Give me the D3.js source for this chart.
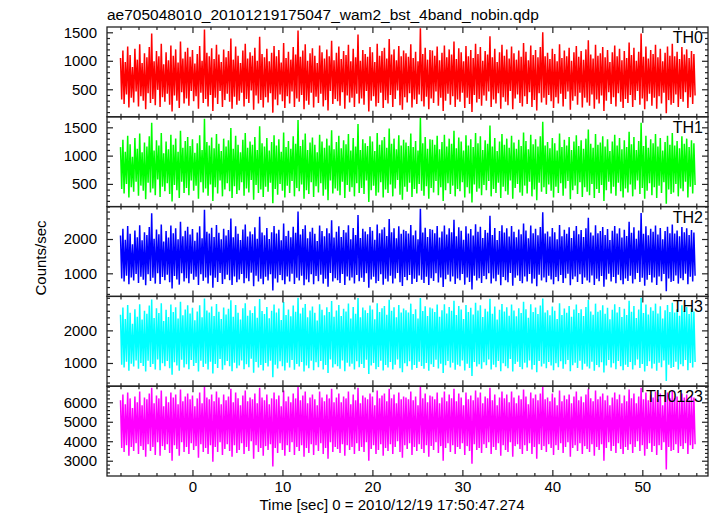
<!DOCTYPE html>
<html><head><meta charset="utf-8">
<script src="https://cdn.jsdelivr.net/npm/d3@7"></script>
<style>body{margin:0;background:#fff} text{font-family:"Liberation Sans",Arial,Helvetica,sans-serif;fill:#000}</style>
</head><body><svg id="c" width="717" height="516"></svg>
<script>
const titleText = "ae705048010_20101219175047_wam2_bst_4band_nobin.qdp";
const xLabel = "Time [sec] 0 = 2010/12/19 17:50:47.274";
const yLabel = "Counts/sec";
const tStart = -8, tStep = 0.13333;

const th0 = [
1050,320,1180,240,980,410,1250,180,1100,350,890,270,1210,460,1020,200,1290,380,960,300,
1130,150,1060,430,1240,260,1480,330,990,220,1170,490,1080,190,1300,360,940,280,1150,420,
1010,230,1270,110,1090,390,1200,300,970,170,1340,450,1040,250,1160,340,1230,210,1070,470,
1190,290,950,380,1120,160,1260,440,1000,260,1550,330,1140,200,1080,400,1220,120,1030,350,
1280,240,1110,470,980,190,1200,310,1060,420,1170,280,1390,160,1020,370,1250,230,1090,300,
960,440,1180,200,1300,330,1040,260,1150,480,1090,140,1230,390,1000,250,1420,310,1120,180,
1060,360,1210,270,990,430,1140,90,1260,320,1080,220,1190,410,970,290,1310,170,1050,380,
1160,250,1020,460,1240,190,1110,340,1530,280,1070,400,1180,150,1290,300,1000,230,1130,440,
1220,180,1090,370,960,260,1270,420,1150,200,1040,310,1200,130,1080,470,1350,240,1010,330,
1140,290,1250,210,1030,450,1170,160,1100,390,1280,270,990,350,1210,190,1060,420,1460,250,
1000,340,1190,230,1120,470,1070,110,1240,300,1150,380,980,200,1300,260,1090,440,1170,170,
1230,310,1040,250,1380,400,1110,190,1200,330,1010,480,1260,220,1080,140,1180,360,1130,270,
1070,430,1290,180,1050,320,1160,240,990,410,1570,290,1120,200,1230,370,1020,150,1190,340,
1180,260,1090,460,1250,210,1010,350,1140,120,1270,300,1060,420,1200,230,1110,380,1340,190,
1030,320,1220,280,1150,440,990,170,1260,350,1080,240,1190,100,1050,400,1300,270,1120,330,
1240,210,1000,390,1170,300,1110,460,1430,190,1060,320,1210,250,980,430,1150,160,1280,360,
1090,280,1200,220,1040,470,1250,150,1130,340,1020,410,1180,260,1070,200,1310,380,1160,240,
1010,450,1270,190,1100,310,1190,130,1060,430,1240,270,1500,350,1080,230,1140,400,1030,290,
1210,170,1120,360,990,250,1290,420,1050,200,1180,330,1080,460,1230,140,1000,300,1150,380,
1260,230,1070,440,1170,180,1020,350,1200,270,1360,210,1110,410,1040,160,1280,320,1090,250,
1130,390,1240,120,1060,300,1190,450,980,240,1150,360,1270,200,1080,430,1210,280,1010,170,
1170,330,1050,260,1320,400,1100,190,1230,310,1000,470,1160,230,1480,340,1070,150,1250,290,
1040,420,1190,210,1120,350,1280,160,1060,380,1210,250,990,440,1140,80,1250,310,1090,230,
1300,260,1080,410,1160,190,1030,330,1240,280,1110,450,1200,170,1050,360,1170,240,1120,390];

const th1 = [
1150,410,1280,330,1070,500,1350,260,1200,440,980,360,1310,540,1120,290,1390,470,1060,380,
1230,230,1160,520,1340,350,1580,420,1090,300,1270,580,1180,270,1400,450,1040,370,1250,510,
1110,320,1370,190,1190,480,1300,390,1070,250,1440,540,1140,340,1260,430,1330,300,1170,560,
1290,380,1050,470,1220,240,1360,530,1100,350,1650,420,1240,290,1180,490,1320,200,1130,440,
1380,330,1210,560,1080,280,1300,400,1160,510,1270,370,1490,250,1120,460,1350,320,1190,390,
1060,530,1280,290,1400,420,1140,350,1250,570,1190,220,1330,480,1100,340,1520,400,1220,270,
1160,450,1310,360,1090,520,1240,160,1360,410,1180,310,1290,500,1070,380,1410,260,1150,470,
1260,340,1120,550,1340,280,1210,430,1630,370,1170,490,1280,240,1390,390,1100,320,1230,530,
1320,270,1190,460,1060,350,1370,510,1250,290,1140,400,1300,210,1180,560,1450,330,1110,420,
1240,380,1350,300,1130,540,1270,250,1200,480,1380,360,1090,440,1310,280,1160,510,1560,340,
1100,430,1290,320,1220,560,1170,180,1340,390,1250,470,1080,290,1400,350,1190,530,1270,260,
1330,400,1140,340,1480,490,1210,280,1300,420,1110,570,1360,310,1180,220,1280,450,1230,360,
1170,520,1390,270,1150,410,1260,330,1090,500,1670,380,1220,290,1330,460,1120,240,1290,430,
1280,350,1190,550,1350,300,1110,440,1240,200,1370,390,1160,510,1300,320,1210,470,1440,280,
1130,410,1320,370,1250,530,1090,260,1360,440,1180,330,1290,170,1150,490,1400,360,1220,420,
1340,300,1100,480,1270,390,1210,550,1530,280,1160,410,1310,340,1080,520,1250,250,1380,450,
1190,370,1300,310,1140,560,1350,240,1230,430,1120,500,1280,350,1170,290,1410,470,1260,330,
1110,540,1370,280,1200,400,1290,210,1160,520,1340,360,1600,440,1180,320,1240,490,1130,380,
1310,260,1220,450,1090,340,1390,510,1150,290,1280,420,1180,550,1330,230,1100,390,1250,470,
1360,320,1170,530,1270,270,1120,440,1300,360,1460,300,1210,500,1140,250,1380,410,1190,340,
1230,480,1340,200,1160,390,1290,540,1080,330,1250,450,1370,290,1180,520,1310,370,1110,260,
1270,420,1150,350,1420,490,1200,280,1330,400,1100,560,1260,320,1580,430,1170,240,1350,380,
1140,510,1290,300,1220,440,1380,250,1160,470,1310,340,1090,530,1240,150,1350,400,1190,320,
1400,350,1180,500,1260,280,1130,420,1340,370,1210,540,1300,260,1150,450,1270,330,1220,480];

const th2 = [
2100,850,2300,760,1980,930,2380,680,2150,880,1850,790,2250,980,2050,720,2400,900,1960,810,
2200,650,2120,970,2350,780,2750,870,2010,700,2280,1000,2140,690,2420,890,1930,800,2230,960,
2040,740,2390,560,2170,920,2310,820,1990,670,2500,1000,2080,760,2240,860,2360,710,2130,990,
2290,810,1950,900,2190,660,2370,970,2020,780,2850,880,2210,700,2160,940,2330,580,2060,870,
2410,750,2180,1010,1990,690,2300,830,2100,960,2260,800,2600,660,2050,910,2370,740,2150,820,
1970,980,2280,710,2420,860,2070,770,2220,1020,2140,620,2340,930,2010,760,2650,840,2190,680,
2110,900,2320,790,2000,970,2200,500,2380,850,2160,730,2270,950,1960,800,2450,680,2090,910,
2240,760,2050,990,2360,690,2180,870,2800,790,2130,930,2290,650,2400,820,2020,740,2210,970,
2330,680,2150,920,1940,770,2390,960,2230,700,2080,840,2310,610,2170,1010,2550,760,2040,860,
2210,800,2370,720,2060,980,2260,660,2190,910,2400,790,1990,880,2320,700,2120,950,2700,770,
2030,870,2300,750,2220,1000,2140,580,2350,820,2240,900,1980,710,2420,780,2170,970,2280,670,
2340,840,2090,760,2580,930,2200,700,2310,850,2020,1010,2370,740,2150,630,2270,890,2230,800,
2160,950,2410,690,2110,840,2250,750,1990,940,2880,810,2190,720,2330,900,2060,660,2290,860,
2270,780,2170,1000,2380,730,2040,880,2220,600,2390,830,2130,960,2310,760,2200,910,2560,690,
2080,850,2340,800,2240,980,1980,670,2370,880,2160,750,2290,530,2100,930,2430,790,2210,860,
2360,720,2030,920,2260,830,2180,1000,2680,700,2120,850,2320,770,1970,960,2230,650,2400,890,
2190,800,2310,740,2070,1010,2380,640,2210,870,2050,940,2280,780,2140,710,2450,910,2250,760,
2020,980,2390,700,2170,840,2300,620,2110,960,2350,790,2780,880,2160,740,2220,930,2070,820,
2320,680,2200,890,1990,770,2410,950,2080,720,2270,860,2150,990,2340,650,2030,830,2240,910,
2380,750,2140,970,2260,690,2060,880,2310,790,2620,730,2190,940,2100,660,2400,840,2170,770,
2230,920,2350,610,2120,820,2290,990,1970,760,2240,890,2380,710,2160,960,2310,800,2040,680,
2270,850,2090,780,2500,930,2180,700,2340,830,2010,1010,2250,750,2760,870,2150,640,2370,810,
2110,950,2300,730,2210,880,2390,660,2130,910,2320,770,1990,980,2230,480,2360,850,2170,750,
2420,780,2160,940,2250,700,2080,860,2350,800,2200,990,2310,680,2120,900,2260,760,2190,930];

const th3 = [
2480,950,2700,860,2350,1040,2780,760,2540,980,2200,890,2650,1080,2420,820,2800,1000,2330,910,
2600,740,2510,1070,2760,880,2950,970,2380,800,2680,1110,2530,780,2830,990,2290,900,2630,1060,
2410,840,2790,640,2560,1020,2710,920,2360,760,2880,1100,2460,860,2640,960,2770,810,2520,1090,
2690,910,2310,1000,2580,740,2770,1070,2400,880,2980,980,2610,800,2550,1040,2730,680,2440,970,
2810,850,2570,1120,2350,790,2700,930,2490,1060,2660,900,2920,750,2420,1010,2780,840,2540,920,
2330,1080,2680,810,2830,960,2450,870,2620,1130,2530,700,2740,1030,2390,860,2960,940,2590,770,
2500,1000,2720,890,2370,1070,2600,560,2790,950,2550,830,2670,1050,2320,900,2870,770,2470,1010,
2640,860,2430,1090,2760,790,2570,970,3000,890,2520,1030,2690,740,2810,920,2400,840,2610,1070,
2730,780,2540,1020,2300,870,2800,1060,2630,800,2460,940,2710,690,2560,1110,2900,860,2420,960,
2610,900,2780,820,2440,1080,2660,750,2580,1010,2820,890,2360,980,2720,800,2510,1050,2990,870,
2400,970,2700,850,2620,1100,2530,660,2760,920,2640,1000,2340,810,2830,880,2560,1070,2680,770,
2750,940,2480,860,2940,1030,2600,800,2710,950,2400,1110,2780,840,2550,720,2670,990,2620,900,
2550,1050,2820,790,2500,940,2650,850,2360,1040,2990,910,2590,820,2740,1000,2440,760,2700,960,
2670,880,2560,1100,2790,830,2420,980,2620,690,2800,930,2520,1060,2720,860,2600,1010,2910,790,
2470,950,2750,900,2640,1080,2350,770,2780,980,2560,850,2690,600,2490,1030,2850,890,2610,960,
2770,820,2410,1020,2660,930,2580,1110,2970,800,2510,950,2730,870,2330,1060,2630,750,2810,990,
2580,900,2710,840,2450,1120,2790,740,2610,970,2430,1040,2680,880,2530,810,2880,1010,2650,860,
2390,1080,2800,800,2560,940,2700,720,2500,1060,2760,890,2980,980,2550,840,2620,1030,2460,920,
2730,780,2600,990,2350,870,2830,1050,2470,820,2670,960,2540,1090,2750,750,2420,930,2640,1010,
2790,850,2530,1070,2650,790,2440,980,2720,890,2930,830,2580,1040,2480,760,2820,940,2570,870,
2620,1020,2770,710,2510,920,2690,1090,2340,860,2630,990,2800,810,2550,1060,2720,900,2410,780,
2660,950,2470,880,2910,1030,2570,800,2750,930,2380,1110,2640,850,3000,970,2530,740,2790,910,
2490,1050,2710,830,2600,980,2820,760,2520,1010,2740,870,2360,1080,2620,450,2780,950,2560,850,
2850,880,2550,1040,2650,800,2450,960,2770,900,2590,1090,2720,780,2500,1000,2670,860,2580,1030];

const th0123 = [
6100,3650,6400,3450,5900,3800,6500,3250,6200,3700,5700,3500,6300,3900,6000,3350,6550,3750,5850,3550,
6250,3200,6150,3850,6450,3500,6750,3700,5950,3300,6350,3950,6200,3250,6600,3750,5800,3550,6300,3850,
6000,3400,6500,3000,6250,3800,6400,3600,5900,3250,6650,3950,6050,3450,6300,3700,6450,3350,6150,3900,
6350,3550,5800,3750,6200,3150,6500,3850,5950,3450,6800,3650,6250,3350,6150,3800,6400,2950,6050,3700,
6550,3450,6250,3950,5900,3300,6400,3600,6100,3850,6300,3500,6700,3200,6000,3800,6500,3400,6200,3550,
5850,3900,6350,3350,6600,3700,6050,3500,6250,4000,6150,3100,6450,3800,5950,3450,6750,3650,6250,3250,
6100,3750,6400,3550,5900,3850,6200,2700,6500,3650,6150,3400,6350,3900,5800,3550,6600,3250,6050,3800,
6300,3450,6000,3950,6450,3300,6200,3700,6800,3500,6100,3800,6350,3200,6550,3650,5950,3400,6250,3850,
6400,3300,6150,3800,5850,3500,6550,3900,6250,3350,6050,3650,6400,3100,6200,3950,6700,3450,6000,3700,
6250,3600,6450,3400,6000,3850,6300,3250,6200,3800,6550,3550,5900,3700,6400,3350,6100,3900,6750,3500,
5950,3700,6350,3450,6250,3950,6150,3000,6450,3600,6300,3800,5850,3350,6600,3550,6200,3850,6350,3250,
6450,3650,6050,3500,6700,3850,6200,3350,6400,3700,5950,4000,6500,3450,6150,3150,6300,3800,6250,3600,
6150,3900,6550,3300,6100,3700,6300,3500,5850,3850,6800,3600,6200,3400,6450,3800,6000,3200,6350,3750,
6300,3550,6150,3950,6500,3400,5950,3750,6250,3000,6550,3650,6050,3900,6400,3450,6200,3800,6700,3350,
6050,3700,6450,3600,6250,3900,5850,3300,6500,3750,6150,3500,6350,2850,6100,3850,6600,3550,6250,3650,
6500,3400,5950,3850,6300,3650,6200,3950,6750,3350,6100,3700,6400,3550,5850,3900,6250,3250,6550,3800,
6200,3550,6400,3450,6000,3950,6550,3200,6250,3750,5950,3850,6350,3600,6150,3350,6650,3800,6300,3500,
5900,3900,6500,3350,6200,3700,6400,3100,6100,3850,6450,3550,6800,3750,6150,3450,6250,3850,6050,3650,
6450,3300,6250,3800,5850,3550,6600,3900,6050,3400,6350,3700,6150,3950,6400,3200,5950,3650,6300,3800,
6550,3500,6100,3900,6300,3350,6000,3750,6400,3600,6700,3450,6200,3850,6050,3250,6600,3700,6150,3550,
6300,3850,6450,3000,6100,3650,6350,3950,5850,3500,6250,3750,6500,3400,6150,3900,6400,3600,5950,3350,
6350,3700,6050,3550,6650,3850,6200,3400,6450,3700,5950,4000,6300,3500,6750,3800,6150,3250,6500,3600,
6100,3900,6400,3450,6250,3750,6550,3300,6150,3800,6450,3550,5850,3950,6300,2550,6500,3700,6200,3500,
6600,3550,6200,3850,6300,3400,6050,3750,6450,3600,6250,3900,6400,3350,6100,3800,6350,3600,6250,3850];

const panelNames = ["TH0","TH1","TH2","TH3","TH0123"];
const panelSeries = [th0, th1, th2, th3, th0123];
const panelColors = ["#ff0000","#00ff00","#0000ff","#00ffff","#ff00ff"];
const yDomains = [[17,1593],[99,1686],[327,2945],[288,3042],[2215,6826]];
const yMajorTicks = [[500,1000,1500],[500,1000,1500],[1000,2000],[1000,2000],[3000,4000,5000,6000]];
const yMinorStep = [100,100,200,200,200];
const xMajorTicks = [0,10,20,30,40,50];
const xMinorStep = 2;
const xDomain = [-9.5, 57.3];

const L = 107, R = 708, T = 27, B = 476;
const nP = panelNames.length;
const pH = (B - T) / nP;
const svg = d3.select("#c");

const x = d3.scaleLinear().domain(xDomain).range([L, R]);
const xMinor = d3.range(Math.ceil(xDomain[0]/xMinorStep)*xMinorStep, xDomain[1], xMinorStep).filter(v => !xMajorTicks.includes(v));

const FS = 15;
const stroke = "#222";

panelSeries.forEach((data, p) => {
  const top = T + p * pH, bot = top + pH;
  const y = d3.scaleLinear().domain(yDomains[p]).range([bot, top]);
  const cid = "clip" + p;
  svg.append("clipPath").attr("id", cid).append("rect")
    .attr("x", L).attr("y", top).attr("width", R - L).attr("height", pH);
  const line = d3.line().x((d, i) => x(tStart + i * tStep)).y(d => y(d));
  svg.append("path").datum(data)
    .attr("clip-path", `url(#${cid})`)
    .attr("fill", "none").attr("stroke", panelColors[p])
    .attr("stroke-width", 1.5).attr("stroke-linejoin", "bevel").attr("d", line);

  const yMin = d3.range(Math.ceil(yDomains[p][0]/yMinorStep[p])*yMinorStep[p], yDomains[p][1], yMinorStep[p])
    .filter(v => !yMajorTicks[p].includes(v));

  const axes = svg.append("g");
  const styleAxis = sel => { sel.select(".domain").remove(); sel.selectAll("line").attr("stroke", stroke).attr("stroke-width", 1.2); sel.selectAll("text").attr("font-size", FS).attr("font-family", '"Liberation Sans",Arial,sans-serif').attr("fill","#000"); };

  axes.append("g").attr("transform", `translate(${L},0)`)
    .call(d3.axisLeft(y).tickValues(yMajorTicks[p]).tickSize(-6).tickPadding(10).tickFormat(d3.format("d")))
    .call(styleAxis);
  axes.append("g").attr("transform", `translate(${L},0)`)
    .call(d3.axisLeft(y).tickValues(yMin).tickSize(-3).tickFormat(""))
    .call(styleAxis);
  axes.append("g").attr("transform", `translate(${R},0)`)
    .call(d3.axisRight(y).tickValues(yMajorTicks[p]).tickSize(-6).tickFormat(""))
    .call(styleAxis);
  axes.append("g").attr("transform", `translate(${R},0)`)
    .call(d3.axisRight(y).tickValues(yMin).tickSize(-3).tickFormat(""))
    .call(styleAxis);
  axes.append("g").attr("transform", `translate(0,${top})`)
    .call(d3.axisTop(x).tickValues(xMajorTicks).tickSize(-6).tickFormat(""))
    .call(styleAxis);
  axes.append("g").attr("transform", `translate(0,${top})`)
    .call(d3.axisTop(x).tickValues(xMinor).tickSize(-3).tickFormat(""))
    .call(styleAxis);
  const isLast = p === nP - 1;
  axes.append("g").attr("transform", `translate(0,${bot})`)
    .call(d3.axisBottom(x).tickValues(xMajorTicks).tickSize(-6).tickPadding(5).tickFormat(isLast ? d3.format("d") : ""))
    .call(styleAxis);
  axes.append("g").attr("transform", `translate(0,${bot})`)
    .call(d3.axisBottom(x).tickValues(xMinor).tickSize(-3).tickFormat(""))
    .call(styleAxis);

  svg.append("rect").attr("x", L).attr("y", top).attr("width", R - L).attr("height", pH)
    .attr("fill", "none").attr("stroke", stroke).attr("stroke-width", 1.3);

  svg.append("text").attr("x", 703).attr("y", top + 16)
    .attr("text-anchor", "end").attr("font-size", 16).text(panelNames[p]);
});

svg.append("text").attr("x", L).attr("y", 20).attr("font-size", 15.5).text(titleText);
svg.append("text").attr("x", 392).attr("y", 510).attr("text-anchor", "middle").attr("font-size", FS).text(xLabel);
svg.append("text").attr("transform", "translate(46,258) rotate(-90)").attr("text-anchor", "middle").attr("font-size", FS).text(yLabel);
</script></body></html>
